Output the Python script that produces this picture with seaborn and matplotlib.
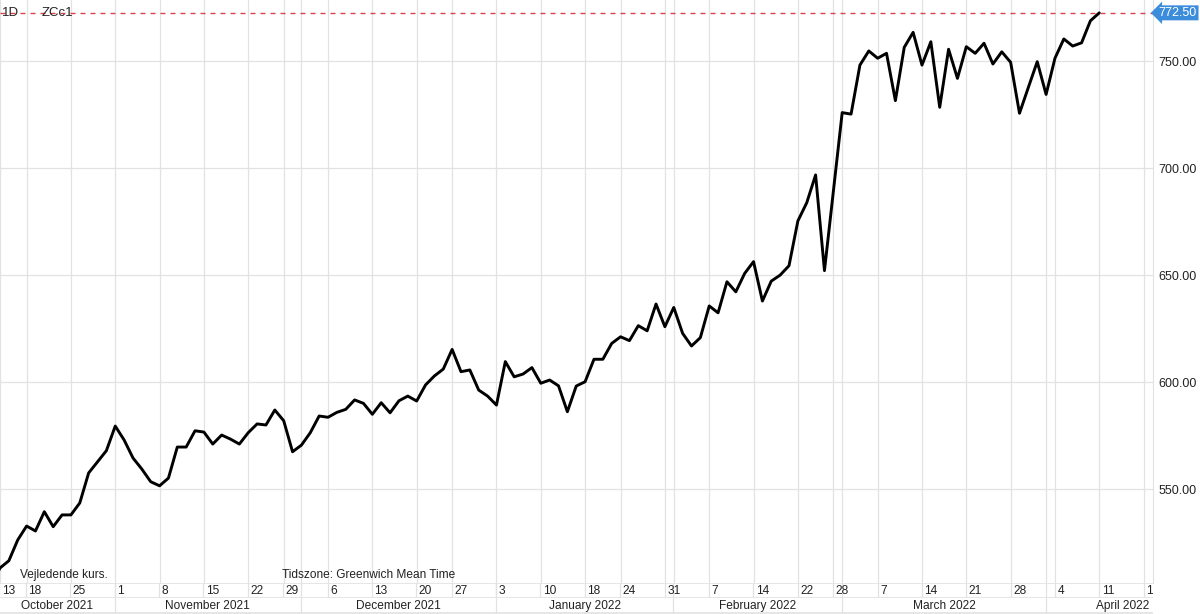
import numpy as np
import pandas as pd
import seaborn as sns
import matplotlib.pyplot as plt
from matplotlib.transforms import offset_copy

# ZCc1 daily closes, Oct 12 2021 .. Apr 11 2022 (one value per trading day)
prices = [505.0, 513.2, 516.6, 526.3, 532.8, 530.5, 539.5, 532.5, 538.0, 538.0,
          543.6, 557.6, 562.8, 568.0, 579.5, 573.0, 564.6, 559.4, 553.5, 551.6,
          555.2, 569.7, 569.7, 577.3, 576.7, 571.1, 575.3, 573.4, 571.1, 576.4,
          580.5, 580.0, 587.0, 582.0, 567.5, 570.6, 576.4, 584.2, 583.6, 585.9,
          587.3, 591.7, 590.1, 585.0, 590.4, 585.7, 591.3, 593.5, 591.2, 598.7,
          602.9, 606.1, 615.3, 604.9, 605.7, 596.3, 593.5, 589.3, 609.6, 602.5,
          603.8, 606.8, 599.5, 601.0, 598.3, 586.2, 598.2, 600.2, 610.7, 610.7,
          618.1, 621.2, 619.4, 626.4, 624.0, 636.5, 625.9, 634.9, 622.8, 616.9,
          620.8, 635.6, 632.4, 646.9, 642.2, 650.8, 656.3, 637.9, 647.2, 650.0,
          654.4, 675.3, 683.8, 696.8, 652.1, 689.0, 725.9, 725.2, 748.1, 754.7,
          751.3, 753.6, 731.5, 756.4, 763.4, 748.1, 759.0, 728.4, 755.5, 741.9,
          756.7, 753.6, 758.3, 748.6, 754.3, 749.4, 725.6, 737.7, 749.7, 734.4,
          751.3, 760.3, 757.0, 758.5, 768.8, 772.5]
holidays = ["2021-11-25", "2021-12-24", "2022-01-17", "2022-02-21"]
last_price = 772.50
y_ticks = [550, 600, 650, 700, 750]

sns.set_style("white")
plt.rcParams["font.family"] = ["Liberation Sans", "DejaVu Sans"]

# trading-day calendar; after the last print the axis runs on plain weekdays
past = pd.bdate_range("2021-10-12", "2022-04-11", freq="C", holidays=holidays)
future = pd.bdate_range("2022-04-12", "2022-04-29")
days = pd.Series(past.append(future))
df = pd.DataFrame({"pos": np.arange(len(prices)), "price": prices})

W, H = 1200, 614
plot_w, plot_h = 1153, 583
px_per_day = 8.87
x_left = 1.07
x_right = x_left + plot_w / px_per_day
full_right = x_left + W / px_per_day
grid_c = "#e2e2e2"
text_c = "#222222"

# week starts / month starts among the visible days
vis = days.iloc[1:]
wk = vis.dt.to_period("W")
week_pos = [p for p in vis.index[(wk != wk.shift()).values] if p <= x_right]
mon = vis.dt.month
month_pos = [p for p in vis.index[(mon != mon.shift()).values] if p <= x_right][1:]

fig = plt.figure(figsize=(W / 100, H / 100), dpi=100)
ax = fig.add_axes([0, 1 - plot_h / H, plot_w / W, plot_h / H])
axd = fig.add_axes([0, (H - 598) / H, plot_w / W, 15 / H])
axm = fig.add_axes([0, 0, 1, (H - 598) / H])

sns.lineplot(data=df, x="pos", y="price", ax=ax, color="black", linewidth=2.1)
ax.set_xlim(x_left, x_right)
ax.set_ylim(506.2, 778.5)
ax.set_xticks(sorted(set(week_pos + month_pos)))
ax.set_xticklabels([])
ax.set_yticks(y_ticks)
ax.set_yticklabels([f"{v:.2f}" for v in y_ticks])
ax.yaxis.tick_right()
ax.tick_params(axis="both", length=0, labelsize=9, colors=text_c)
ax.tick_params(axis="y", pad=4)
ax.grid(True, color=grid_c, linewidth=0.9)
ax.set_xlabel("")
ax.set_ylabel("")
for s in ["left", "top", "bottom"]:
    ax.spines[s].set_visible(False)
ax.spines["right"].set_color(grid_c)

# last price marker
ax.axhline(last_price, color="#d8434f", linewidth=1.0, linestyle=(0, (3.6, 3.6)))
ax.text(1.005, last_price, f"{last_price:.2f}", transform=ax.get_yaxis_transform(),
        ha="left", va="center", fontsize=9, color="white", clip_on=False,
        bbox=dict(boxstyle="larrow,pad=0.12", fc="#3b8ddb", ec="none"))

fig.text(2 / W, 1 - 13 / H, "1D", fontsize=9.5, color=text_c, va="center")
fig.text(42 / W, 1 - 13 / H, "ZCc1", fontsize=9.5, color=text_c, va="center")
fig.text(20 / W, 1 - 575 / H, "Vejledende kurs.", fontsize=8.6, color=text_c, va="center")
fig.text(282 / W, 1 - 575 / H, "Tidszone: Greenwich Mean Time", fontsize=8.6,
         color=text_c, va="center")

# day row
axd.set_xlim(x_left, x_right)
axd.set_ylim(0, 1)
axd.set_axis_off()
for p in week_pos + month_pos:
    axd.axvline(p, color=grid_c, linewidth=0.9)
axd.axhline(0, color=grid_c, linewidth=1.2)
axd.axhline(1, color=grid_c, linewidth=1.2)
shift = offset_copy(axd.transData, fig=fig, x=2.5, y=0, units="dots")
for p in week_pos:
    axd.text(p, 0.45, str(days[p].day), transform=shift, ha="left", va="center",
             fontsize=8.6, color=text_c, clip_on=True)

# month row
axm.set_xlim(x_left, full_right)
axm.set_ylim(0, 1)
axm.set_axis_off()
for p in month_pos:
    axm.axvline(p, color=grid_c, linewidth=0.9)
axm.hlines(0.04, x_left, x_right, color=grid_c, linewidth=1.2)
bounds = [x_left] + month_pos + [full_right]
for a, b in zip(bounds[:-1], bounds[1:]):
    d = days[int(np.ceil(a))]
    axm.text((a + b) / 2, 0.5, d.strftime("%B %Y"), ha="center", va="center",
             fontsize=8.6, color=text_c)

fig.savefig("out.png", dpi=100, facecolor="white")
